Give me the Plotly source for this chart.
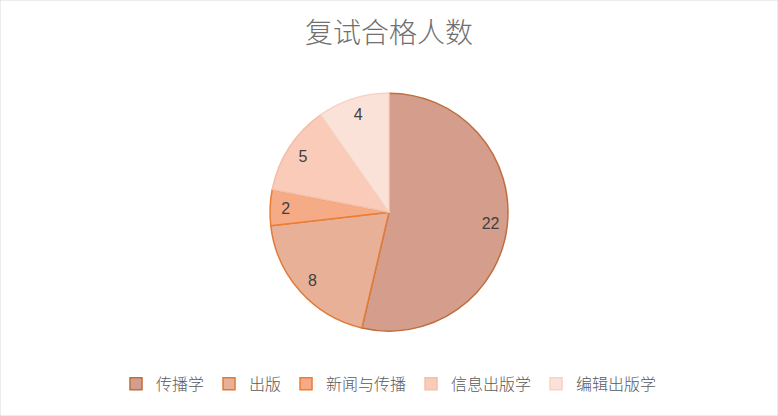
import plotly.graph_objects as go

categories = ["传播学", "出版", "新闻与传播", "信息出版学", "编辑出版学"]
counts = [22, 8, 2, 5, 4]

fill_colors = ["#D59E8C", "#E9B098", "#F5AB86", "#F9CBB8", "#FBE2D8"]
line_colors = ["#BF6E3E", "#E07B39", "#ED7D31", "#F3BFA8", "#F7D3C5"]

pie_domain = dict(x=[0.0, 1.0], y=[0.204, 0.776])

fig = go.Figure()

# the filled slices
fig.add_trace(go.Pie(
    labels=categories,
    values=counts,
    sort=False,
    direction="clockwise",
    rotation=0,
    marker=dict(colors=fill_colors, line=dict(color=line_colors, width=1.5)),
    textinfo="none",
    domain=pie_domain,
    hoverinfo="label+value",
))

# transparent ring on top, only to push the value labels out toward the rim
fig.add_trace(go.Pie(
    labels=categories,
    values=counts,
    sort=False,
    direction="clockwise",
    rotation=0,
    hole=0.72,
    marker=dict(colors=["rgba(0,0,0,0)"] * len(counts), line=dict(width=0)),
    textinfo="value",
    textposition="inside",
    insidetextorientation="horizontal",
    textfont=dict(family="Liberation Sans, Arial", size=16, color="#404040"),
    domain=pie_domain,
    showlegend=False,
    hoverinfo="label+value",
))

fig.update_layout(
    width=778,
    height=416,
    margin=dict(l=0, r=0, t=0, b=0),
    paper_bgcolor="white",
    plot_bgcolor="white",
    title=dict(
        text="复试合格人数",
        x=0.5, xanchor="center",
        y=0.92, yanchor="middle",
        font=dict(family="Noto Sans CJK SC", size=28, color="#707070", weight=300),
    ),
    legend=dict(
        orientation="h",
        x=0.5, xanchor="center",
        y=0.077, yanchor="middle",
        font=dict(family="Noto Sans CJK SC", size=16, color="#595959", weight=300),
        itemwidth=30,
        traceorder="normal",
    ),
    shapes=[dict(
        type="rect", xref="paper", yref="paper",
        x0=0, x1=1, y0=0, y1=1,
        line=dict(color="#D9D9D9", width=1),
    )],
)

fig.write_html("out.html", config={"displayModeBar": False},
               post_script="document.body.style.margin='0';")
